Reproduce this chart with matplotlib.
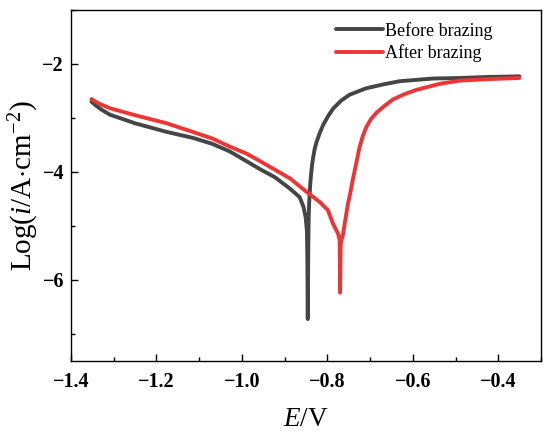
import matplotlib
matplotlib.use("Agg")
import matplotlib.pyplot as plt
from matplotlib.ticker import MultipleLocator

plt.rcParams['font.family'] = ['Liberation Serif', 'DejaVu Serif']
plt.rcParams['mathtext.fontset'] = 'custom'
plt.rcParams['mathtext.rm'] = 'Liberation Serif'
plt.rcParams['mathtext.it'] = 'Liberation Serif:italic'

# Before brazing
before_E = [-1.352, -1.340, -1.330, -1.309, -1.250, -1.176, -1.115, -1.070, -1.029,
            -0.990, -0.958, -0.923, -0.888, -0.865, -0.856, -0.851, -0.848, -0.847,
            -0.8465, -0.846, -0.8455, -0.845, -0.844, -0.843, -0.8416, -0.840, -0.838,
            -0.836, -0.834, -0.830, -0.826, -0.818, -0.810, -0.798, -0.787, -0.768,
            -0.748, -0.709, -0.670, -0.631, -0.553, -0.491, -0.420, -0.351]
before_logi = [-2.70, -2.78, -2.84, -2.94, -3.10, -3.26, -3.37, -3.48, -3.62,
               -3.80, -3.95, -4.10, -4.31, -4.47, -4.65, -4.84, -5.10, -5.60,
               -6.20, -6.73, -6.20, -5.50, -4.90, -4.62, -4.40, -4.20, -4.02,
               -3.88, -3.76, -3.58, -3.46, -3.28, -3.13, -2.96, -2.83, -2.68,
               -2.57, -2.45, -2.38, -2.32, -2.27, -2.26, -2.24, -2.23]

# After brazing
after_E = [-1.352, -1.340, -1.330, -1.309, -1.250, -1.176, -1.115, -1.070, -1.029,
           -0.990, -0.958, -0.923, -0.888, -0.849, -0.818, -0.799, -0.787, -0.775,
           -0.7715, -0.771, -0.7705, -0.770, -0.7695, -0.769, -0.767, -0.764, -0.752,
           -0.748, -0.740, -0.736, -0.725, -0.717, -0.709, -0.698, -0.686, -0.667,
           -0.647, -0.620, -0.592, -0.538, -0.491, -0.420, -0.351]
after_logi = [-2.65, -2.71, -2.75, -2.82, -2.95, -3.10, -3.26, -3.38, -3.53,
              -3.66, -3.80, -3.96, -4.12, -4.37, -4.56, -4.71, -4.96, -5.15,
              -5.27, -5.60, -6.24, -5.90, -5.60, -5.35, -5.25, -5.18, -4.59,
              -4.45, -4.12, -3.97, -3.55, -3.33, -3.17, -3.02, -2.91, -2.78,
              -2.66, -2.56, -2.48, -2.37, -2.31, -2.28, -2.26]

fig = plt.figure(figsize=(5.5, 4.36), dpi=100)
ax = fig.add_axes([0.129, 0.173, 0.855, 0.804])

ax.plot(before_E, before_logi, color='#454545', lw=2.8, label='Before brazing',
        solid_capstyle='round', solid_joinstyle='round')
ax.plot(after_E, after_logi, color='#ee3535', lw=2.8, label='After brazing',
        solid_capstyle='round', solid_joinstyle='round')

ax.set_xlim(-1.4, -0.3)
ax.set_ylim(-7.5, -1.0)
ax.xaxis.set_major_locator(MultipleLocator(0.2))
ax.xaxis.set_minor_locator(MultipleLocator(0.1))
ax.yaxis.set_major_locator(MultipleLocator(2))
ax.yaxis.set_minor_locator(MultipleLocator(1))
ax.tick_params(which='both', direction='in', width=1.0, labelsize=14.5)
ax.tick_params(axis='x', pad=8)
ax.tick_params(axis='y', pad=5)
ax.tick_params(which='major', length=5)
ax.tick_params(which='minor', length=3)
for lab in ax.get_xticklabels() + ax.get_yticklabels():
    lab.set_fontweight('bold')
for s in ax.spines.values():
    s.set_linewidth(1.0)

ax.set_xlabel(r'$\mathit{E}$/V', fontsize=19.5, labelpad=11)
ax.set_ylabel(r'Log($\mathit{i}$/A$\cdot$cm$^{-2}$)', fontsize=21, labelpad=1)

leg = ax.legend(loc='upper right', frameon=False, fontsize=13, handlelength=2.6,
                handletextpad=0.15, borderaxespad=0.0, borderpad=0.2, labelspacing=0.25,
                bbox_to_anchor=(0.905, 0.977))

fig.savefig('out.png', dpi=100)
